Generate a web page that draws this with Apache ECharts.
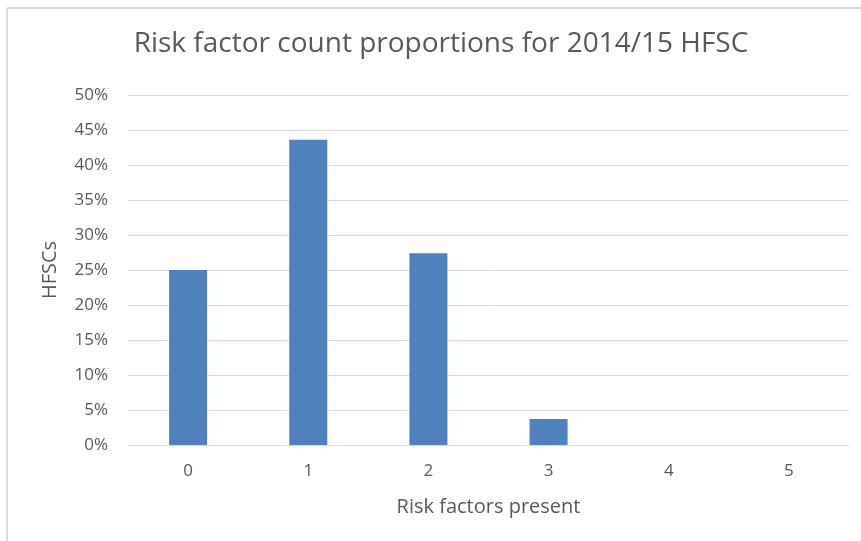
<!DOCTYPE html>
<html>
<head>
<meta charset="utf-8">
<script src="https://cdn.jsdelivr.net/npm/echarts@6/dist/echarts.min.js"></script>
<style>html,body{margin:0;padding:0;background:#fff}#c{width:861px;height:541px}</style>
</head>
<body>
<div id="c"></div>
<script>
const titleText = "Risk factor count proportions for 2014/15 HFSC";
const categories = ["0", "1", "2", "3", "4", "5"];
const proportions = [25.0, 43.6, 27.4, 3.7, 0, 0];
const xAxisName = "Risk factors present";
const yAxisName = "HFSCs";

const chart = echarts.init(document.getElementById('c'), null, {renderer: 'canvas'});
const font = "'Open Sans', sans-serif";
const txt = '#595959';
chart.setOption({
  animation: false,
  backgroundColor: '#fff',
  graphic: [
    {type: 'line', shape: {x1: 7, y1: 8, x2: 861, y2: 8}, style: {stroke: '#d9d9d9', lineWidth: 2}},
    {type: 'line', shape: {x1: 7, y1: 8, x2: 7, y2: 541}, style: {stroke: '#d9d9d9', lineWidth: 2}}
  ],
  title: {
    text: titleText, left: 436, top: 25, textAlign: 'center',
    textStyle: {fontFamily: font, fontSize: 28, fontWeight: 'normal', color: txt}
  },
  grid: {left: 128, right: 12, top: 95, bottom: 96, containLabel: false},
  xAxis: {
    type: 'category', data: categories,
    name: xAxisName, nameLocation: 'middle', nameGap: 52,
    nameTextStyle: {fontFamily: font, fontSize: 20, color: txt},
    axisLine: {show: true, lineStyle: {color: '#d9d9d9', width: 1}},
    axisTick: {show: false},
    axisLabel: {fontFamily: font, fontSize: 17, color: txt, margin: 18}
  },
  yAxis: {
    type: 'value', min: 0, max: 50, interval: 5,
    name: yAxisName, nameLocation: 'middle', nameGap: 68, nameRotate: 90,
    nameTextStyle: {fontFamily: font, fontSize: 20, color: txt},
    axisLine: {show: false}, axisTick: {show: false},
    axisLabel: {fontFamily: font, fontSize: 17, color: txt, margin: 20, formatter: '{value}%'},
    splitLine: {lineStyle: {color: '#d9d9d9', width: 1}}
  },
  series: [{
    type: 'bar', data: proportions, barWidth: 38,
    itemStyle: {color: '#4f81bd'}
  }]
});
</script>
</body>
</html>
